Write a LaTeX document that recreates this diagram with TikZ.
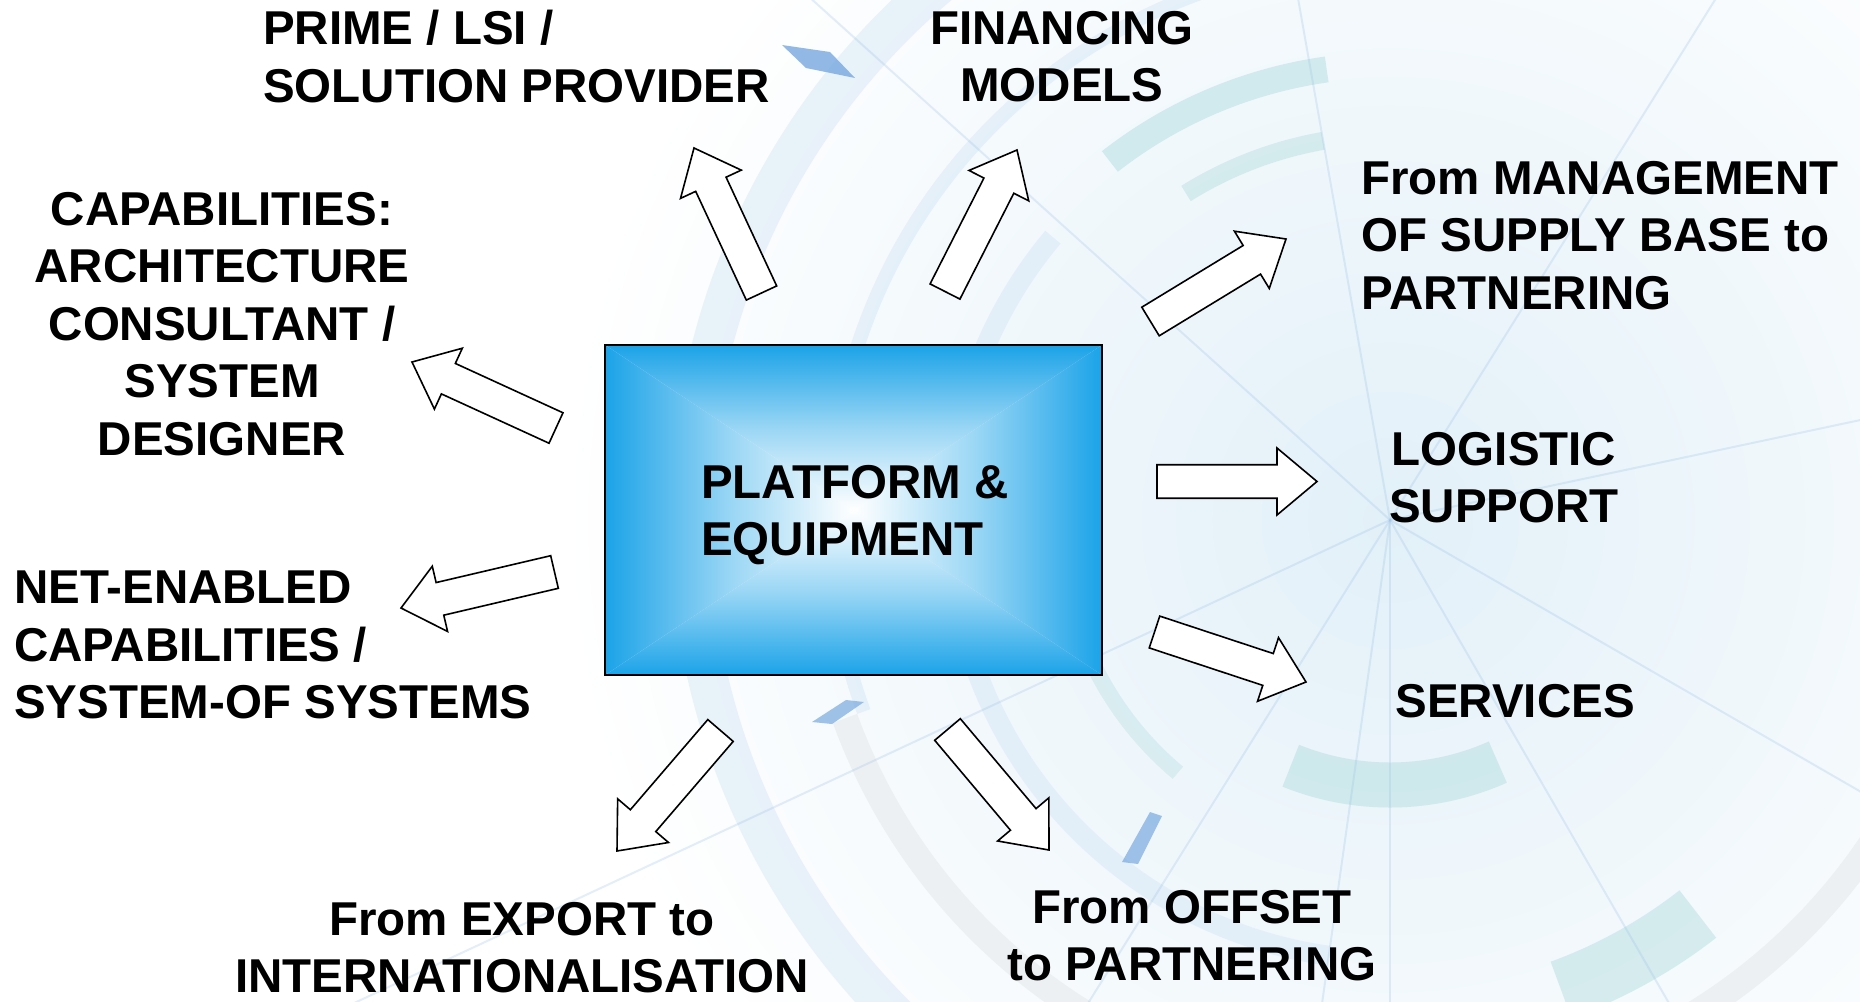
\documentclass[tikz,border=0pt]{standalone}
\usepackage{fontspec}
\setmainfont{Liberation Sans}
\usetikzlibrary{calc}
\definecolor{boxblue}{HTML}{1BA3E8}
\definecolor{bgtint}{HTML}{E2F0F8}
\definecolor{arcblue}{HTML}{A9CDEB}
\definecolor{arcteal}{HTML}{86CACB}
\definecolor{rayblue}{HTML}{9CC3E6}
\definecolor{sliver}{HTML}{6FA3DD}
\tikzset{
  lbl/.style={font=\fontsize{47.5}{57.5}\selectfont\bfseries, inner sep=0pt, text=black},
  blockarrow/.style={draw=black, fill=white, line width=1.6pt, line join=miter},
  bgarc/.style={line cap=butt},
}
\newcommand\blockarr[3]{%
  \coordinate (#1-hb) at ($(#3)!40pt!(#2)$);
  \draw[blockarrow] ($(#2)!16.75pt!90:(#3)$) -- ($(#1-hb)!16.75pt!90:(#3)$)
    -- ($(#1-hb)!33.5pt!90:(#3)$) -- (#3) -- ($(#1-hb)!33.5pt!-90:(#3)$)
    -- ($(#1-hb)!16.75pt!-90:(#3)$) -- ($(#2)!16.75pt!-90:(#3)$) -- cycle;}
\begin{document}
\begin{tikzpicture}[x=1pt,y=-1pt]
\useasboundingbox (0,0) rectangle (1860,1001);
\fill[white] (0,0) rectangle (1860,1001);
% ---------- background pattern ----------
\begin{scope}
\clip (0,0) rectangle (1860,1001);
\coordinate (C) at (1390,520);
\shade[inner color=bgtint, outer color=white] (C) circle (830pt);
\draw[bgarc, line width=40pt, arcblue, opacity=.22] ([shift={(118:700pt)}]C) arc[start angle=118, end angle=240, radius=700pt];
\draw[bgarc, line width=14pt, arcblue, opacity=.22] ([shift={(80:560pt)}]C) arc[start angle=80, end angle=200, radius=560pt];
\draw[bgarc, line width=26pt, arcteal, opacity=.30] ([shift={(98:455pt)}]C) arc[start angle=98, end angle=128, radius=455pt];
\draw[bgarc, line width=18pt, arcteal, opacity=.25] ([shift={(100:385pt)}]C) arc[start angle=100, end angle=122, radius=385pt];
\draw[bgarc, line width=20pt, arcblue, opacity=.20] ([shift={(140:440pt)}]C) arc[start angle=140, end angle=262, radius=440pt];
\draw[bgarc, line width=45pt, arcteal, opacity=.28] ([shift={(-112:265pt)}]C) arc[start angle=-112, end angle=-66, radius=265pt];
\draw[bgarc, line width=60pt, arcteal, opacity=.28] ([shift={(-70:500pt)}]C) arc[start angle=-70, end angle=-52, radius=500pt];
\draw[bgarc, line width=26pt, gray!30, opacity=.30] ([shift={(200:580pt)}]C) arc[start angle=200, end angle=330, radius=580pt];
\draw[bgarc, line width=16pt, arcteal, opacity=.20] ([shift={(160:330pt)}]C) arc[start angle=160, end angle=230, radius=330pt];
\foreach \a in {12,58,100,138,205,238,262,270,300,330}
  \draw[rayblue, line width=2pt, opacity=.28] (C) -- ++(\a:1300pt);
\fill[sliver, opacity=.75] (782,45) -- (830,52) -- (855,78) -- (806,68) -- cycle;
\fill[sliver, opacity=.65] (812,722) -- (846,700) -- (864,702) -- (832,724) -- cycle;
\fill[sliver, opacity=.65] (1122,862) -- (1150,812) -- (1162,816) -- (1138,864) -- cycle;
\end{scope}
% ---------- central box ----------
\node[inner sep=0pt, minimum width=497pt, minimum height=330pt] (box) at (853.5,510) {};
\begin{scope}
\clip (box.north west) -- (box.north east) -- (box.center) -- cycle;
\shade[top color=boxblue, bottom color=white, middle color=boxblue!45!white] (box.north west) rectangle (box.east);
\end{scope}
\begin{scope}
\clip (box.south west) -- (box.south east) -- (box.center) -- cycle;
\shade[bottom color=boxblue, top color=white, middle color=boxblue!45!white] (box.west) rectangle (box.south east);
\end{scope}
\begin{scope}
\clip (box.north west) -- (box.south west) -- (box.center) -- cycle;
\shade[left color=boxblue, right color=white, middle color=boxblue!45!white] (box.north west) rectangle (box.south);
\end{scope}
\begin{scope}
\clip (box.north east) -- (box.south east) -- (box.center) -- cycle;
\shade[right color=boxblue, left color=white, middle color=boxblue!45!white] (box.north) rectangle (box.south east);
\end{scope}
\draw[line width=1.8pt] (box.north west) rectangle (box.south east);
\node[lbl, anchor=north west, align=left] (plat) at (701,465) {PLATFORM \&\\EQUIPMENT};
% ---------- labels ----------
\node[lbl, anchor=north west, align=left] (prime) at (263,10) {PRIME / LSI /\\SOLUTION PROVIDER};
\node[lbl, anchor=north, align=center] (fin) at (1062,11) {FINANCING\\MODELS};
\node[lbl, anchor=north west, align=left] (mgmt) at (1361,161) {From MANAGEMENT\\OF SUPPLY BASE to\\PARTNERING};
\node[lbl, anchor=north, align=center] (cap) at (222,192) {CAPABILITIES:\\ARCHITECTURE\\CONSULTANT /\\SYSTEM\\DESIGNER};
\node[lbl, anchor=north, align=center] (log) at (1504,432) {LOGISTIC\\SUPPORT};
\node[lbl, anchor=north west, align=left] (net) at (14,571) {NET-ENABLED\\CAPABILITIES /\\SYSTEM-OF SYSTEMS};
\node[lbl, anchor=north] (serv) at (1515,684) {SERVICES};
\node[lbl, anchor=north, align=center] (exp) at (522,902) {From EXPORT to\\INTERNATIONALISATION};
\node[lbl, anchor=north, align=center] (off) at (1192,890) {From OFFSET\\to PARTNERING};
% ---------- arrows ----------
\coordinate (primeT) at (761.5,293);  \coordinate (primeH) at (694,148);
\coordinate (finT) at (945,291.5);    \coordinate (finH) at (1017,150);
\coordinate (mgmtT) at (1150.5,321.5);\coordinate (mgmtH) at (1286,239);
\coordinate (capT) at (556,428);      \coordinate (capH) at (412,362);
\coordinate (logT) at (1157,481.5);   \coordinate (logH) at (1317,481.5);
\coordinate (netT) at (554.5,572);    \coordinate (netH) at (401,608);
\coordinate (servT) at (1154.5,632);  \coordinate (servH) at (1306,682);
\coordinate (expT) at (720.5,730.5);  \coordinate (expH) at (617,851);
\coordinate (offT) at (947.5,729.5);  \coordinate (offH) at (1049,850);
\blockarr{a1}{primeT}{primeH}
\blockarr{a2}{finT}{finH}
\blockarr{a3}{mgmtT}{mgmtH}
\blockarr{a4}{capT}{capH}
\blockarr{a5}{logT}{logH}
\blockarr{a6}{netT}{netH}
\blockarr{a7}{servT}{servH}
\blockarr{a8}{expT}{expH}
\blockarr{a9}{offT}{offH}
\end{tikzpicture}
\end{document}
